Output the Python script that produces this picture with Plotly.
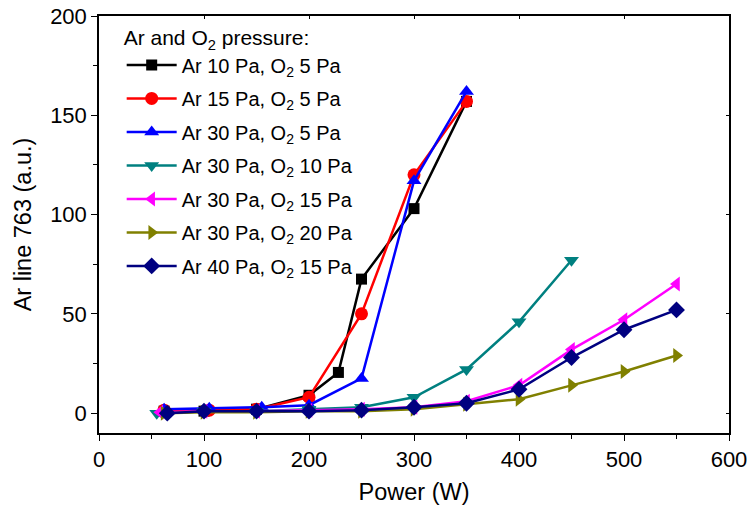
import plotly.graph_objects as go

names = [
    "Ar 10 Pa, O<sub>2</sub> 5 Pa",
    "Ar 15 Pa, O<sub>2</sub> 5 Pa",
    "Ar 30 Pa, O<sub>2</sub> 5 Pa",
    "Ar 30 Pa, O<sub>2</sub> 10 Pa",
    "Ar 30 Pa, O<sub>2</sub> 15 Pa",
    "Ar 30 Pa, O<sub>2</sub> 20 Pa",
    "Ar 40 Pa, O<sub>2</sub> 15 Pa",
]

x_ar10_o5 = [62, 100, 150, 200, 228, 250, 300, 350]
y_ar10_o5 = [1, 1, 2, 9, 20.5, 67.5, 103, 157]

x_ar15_o5 = [62, 105, 150, 200, 250, 300, 350]
y_ar15_o5 = [1.5, 1.5, 2, 8, 50, 120, 157]

x_ar30_o5 = [62, 105, 155, 200, 250, 300, 350]
y_ar30_o5 = [2, 2.5, 3, 4, 17.5, 117, 162]

x_ar30_o10 = [55, 100, 150, 200, 250, 300, 350, 400, 450]
y_ar30_o10 = [0, 1, 1, 2, 3, 8, 22, 46, 77]

x_ar30_o15 = [58, 100, 150, 200, 250, 300, 350, 400, 450, 500, 550]
y_ar30_o15 = [0.5, 1, 1, 1.5, 2, 3, 6, 14, 32, 47, 65]

x_ar30_o20 = [62, 100, 150, 200, 250, 300, 350, 400, 450, 500, 550]
y_ar30_o20 = [0, 0.5, 0.5, 1, 1, 2, 4.5, 7, 14, 21, 29]

x_ar40_o15 = [65, 100, 150, 200, 250, 300, 350, 400, 450, 500, 550]
y_ar40_o15 = [0, 1, 1, 1, 1.5, 3, 5, 12, 28, 42, 52]

xs = [x_ar10_o5, x_ar15_o5, x_ar30_o5, x_ar30_o10, x_ar30_o15, x_ar30_o20, x_ar40_o15]
ys = [y_ar10_o5, y_ar15_o5, y_ar30_o5, y_ar30_o10, y_ar30_o15, y_ar30_o20, y_ar40_o15]
colors = ["#000000", "#FF0000", "#0000FF", "#008080", "#FF00FF", "#808000", "#000080"]
symbols = ["square", "circle", "triangle-up", "triangle-down", "triangle-left", "triangle-right", "diamond"]
sizes = [11, 13, 13, 13, 13, 13, 13]

fig = go.Figure()
for i in range(len(names)):
    fig.add_trace(go.Scatter(
        x=xs[i], y=ys[i], name=names[i], mode="lines+markers",
        line=dict(color=colors[i], width=2.5),
        marker=dict(symbol=symbols[i], color=colors[i], size=sizes[i]),
        legendgroup=str(i),
    ))

# invisible trace to carry the mirrored top/right axes with inward ticks
fig.add_trace(go.Scatter(x=[None], y=[None], xaxis="x2", yaxis="y2",
                         showlegend=False, hoverinfo="skip"))

font_main = "Liberation Sans, Arial, sans-serif"
fig.update_layout(
    width=750, height=510,
    margin=dict(l=99, r=21, t=16, b=77, autoexpand=False),
    paper_bgcolor="white", plot_bgcolor="white",
    font=dict(family=font_main, size=20, color="black"),
    showlegend=True,
    legend=dict(
        title=dict(text="Ar and O<sub>2</sub> pressure:", font=dict(size=21)),
        x=0.036, y=0.995, xanchor="left", yanchor="top",
        font=dict(size=20), bgcolor="rgba(0,0,0,0)",
        tracegroupgap=4.5, itemwidth=50,
    ),
    xaxis=dict(
        range=[0, 600], tickvals=[0, 100, 200, 300, 400, 500, 600],
        ticks="outside", ticklen=6, tickwidth=1.2, tickcolor="black",
        minor=dict(dtick=50, ticks="outside", ticklen=4, tickcolor="black", tickwidth=1.2),
        showline=True, linecolor="black", linewidth=1.5, showgrid=False, zeroline=False,
        title=dict(text="Power (W)", font=dict(size=23.5), standoff=12),
        tickfont=dict(size=22), automargin=False,
    ),
    yaxis=dict(
        range=[-10, 200], tickvals=[0, 50, 100, 150, 200],
        ticks="outside", ticklen=6, tickwidth=1.2, tickcolor="black",
        minor=dict(tickvals=[25, 75, 125, 175], ticks="outside", ticklen=4, tickcolor="black", tickwidth=1.2),
        showline=True, linecolor="black", linewidth=1.5, showgrid=False, zeroline=False,
        title=dict(text="Ar line 763 (a.u.)", font=dict(size=23.5), standoff=12),
        tickfont=dict(size=22), automargin=False,
    ),
    xaxis2=dict(
        range=[0, 600], overlaying="x", side="top", anchor="y2",
        tickvals=[0, 100, 200, 300, 400, 500, 600], ticks="inside", ticklen=3,
        tickcolor="black", showticklabels=False, showline=True, linecolor="black",
        linewidth=1.5, showgrid=False, zeroline=False, automargin=False,
    ),
    yaxis2=dict(
        range=[-10, 200], overlaying="y", side="right", anchor="x2",
        tickvals=[0, 50, 100, 150, 200], ticks="inside", ticklen=3,
        tickcolor="black", showticklabels=False, showline=True, linecolor="black",
        linewidth=1.5, showgrid=False, zeroline=False, automargin=False,
    ),
)

fig.write_html("out.html")
